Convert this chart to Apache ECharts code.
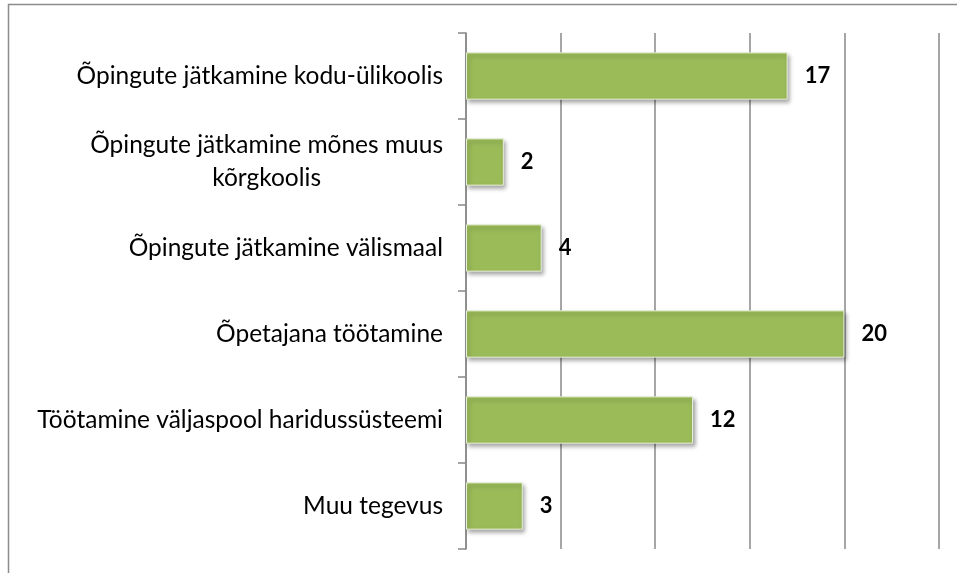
<!DOCTYPE html>
<html>
<head>
<meta charset="utf-8">
<script src="https://cdn.jsdelivr.net/npm/echarts@6/dist/echarts.min.js"></script>
<style>
html, body { margin: 0; padding: 0; background: #fff; }
#chart { width: 957px; height: 573px; }
</style>
</head>
<body>
<div id="chart"></div>
<script>
var categories = [
    'Õpingute jätkamine kodu-ülikoolis',
    'Õpingute jätkamine mõnes muus\nkõrgkoolis',
    'Õpingute jätkamine välismaal',
    'Õpetajana töötamine',
    'Töötamine väljaspool haridussüsteemi',
    'Muu tegevus'
];
var values = [17, 2, 4, 20, 12, 3];
var axisMax = 25;
var axisStep = 5;

var chart = echarts.init(document.getElementById('chart'));
var font = 'Lato, "Open Sans", sans-serif';
var option = {
    backgroundColor: '#fff',
    animation: false,
    graphic: [
        { type: 'line', shape: { x1: 8, y1: 4.5, x2: 957, y2: 4.5 }, style: { stroke: '#8c8c8c', lineWidth: 1.5 } },
        { type: 'line', shape: { x1: 8.5, y1: 4, x2: 8.5, y2: 573 }, style: { stroke: '#8c8c8c', lineWidth: 1.5 } }
    ],
    grid: { left: 466, right: 18, top: 33, bottom: 24 },
    xAxis: {
        type: 'value',
        min: 0,
        max: axisMax,
        interval: axisStep,
        axisLine: { show: false },
        axisTick: { show: false },
        axisLabel: { show: false },
        splitLine: { lineStyle: { color: '#888', width: 1.5 } }
    },
    yAxis: {
        type: 'category',
        inverse: true,
        data: categories,
        axisLine: { show: true, lineStyle: { color: '#888', width: 1.5 } },
        axisTick: { show: true, length: 8, lineStyle: { color: '#888', width: 1.5 } },
        axisLabel: {
            margin: 23,
            color: '#000',
            fontFamily: font,
            fontSize: 24.5,
            lineHeight: 33,
            formatter: function (v) {
                return v.split('\n').map(function (s) { return '{c|' + s + '}'; }).join('\n');
            },
            rich: { c: { align: 'center', fontSize: 24.5, fontFamily: font, color: '#000', lineHeight: 33 } }
        }
    },
    series: [{
        type: 'bar',
        data: values,
        barWidth: '55%',
        itemStyle: {
            color: '#9BBB59',
            borderColor: '#e8efd8',
            borderWidth: 1,
            shadowColor: 'rgba(0,0,0,0.35)',
            shadowBlur: 4,
            shadowOffsetX: 2,
            shadowOffsetY: 3
        },
        label: {
            show: true,
            position: 'right',
            distance: 17,
            color: '#000',
            fontFamily: font,
            fontWeight: 'bold',
            fontSize: 22
        }
    }]
};
chart.setOption(option);
</script>
</body>
</html>
